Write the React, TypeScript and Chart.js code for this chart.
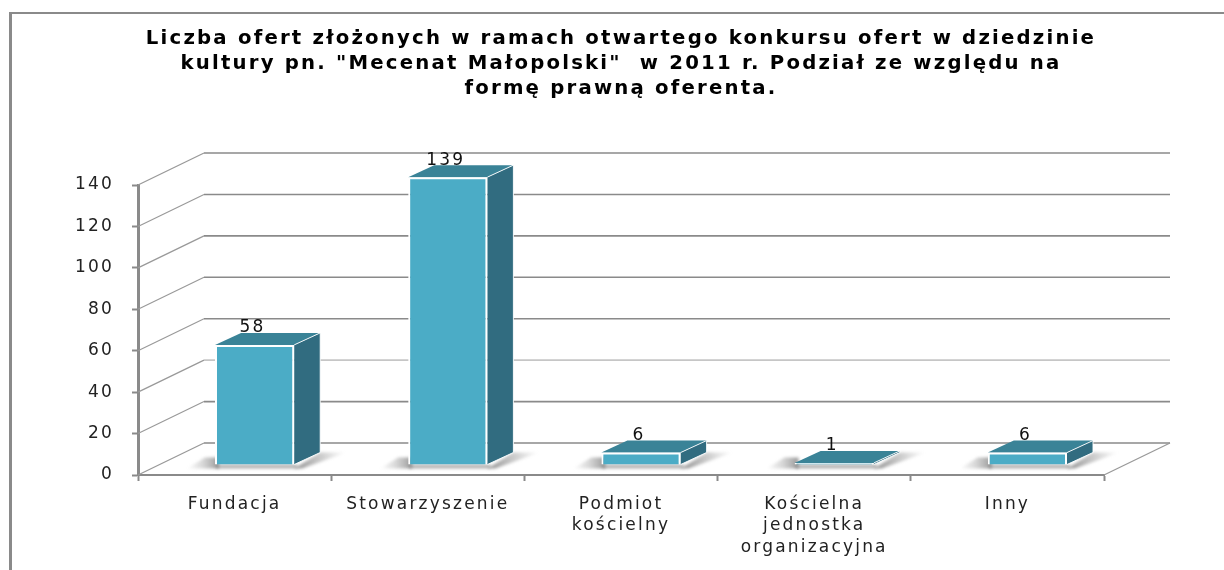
import React, { useEffect, useRef } from "react";
import { Chart, registerables } from "chart.js";

Chart.register(...registerables);

const titleLines = [
  'Liczba ofert złożonych w ramach otwartego konkursu ofert w dziedzinie',
  'kultury pn. "Mecenat Małopolski"  w 2011 r. Podział ze względu na',
  'formę prawną oferenta.',
];
const categories = [
  ["Fundacja"],
  ["Stowarzyszenie"],
  ["Podmiot", "kościelny"],
  ["Kościelna", "jednostka", "organizacyjna"],
  ["Inny"],
];
const offerCounts = [58, 139, 6, 1, 6];

const FONT = '"DejaVu Sans"';
const WALL_DX = 66;
const WALL_DY = -32;
const BAR_SHIFT_X = 20;
const BAR_SHIFT_Y = -10;
const BAR_DX = 26;
const BAR_DY = -12;
const GREY = "#8a8a8a";
const LIGHT = "#c6c6c6";
const FRONT = "#4bacc6";
const TOP = "#3a8397";
const SIDE = "#316c80";

function poly(ctx: CanvasRenderingContext2D, pts: number[][], fill: any) {
  ctx.beginPath();
  pts.forEach(([x, y], i) => (i ? ctx.lineTo(x, y) : ctx.moveTo(x, y)));
  ctx.closePath();
  ctx.fillStyle = fill;
  ctx.fill();
}

const plugin3d = {
  id: "plugin3d",
  beforeDraw(chart: any) {
    const { ctx, width, height } = chart;
    ctx.letterSpacing = "2.2px";
    ctx.save();
    ctx.fillStyle = "#fff";
    ctx.fillRect(0, 0, width, height);
    ctx.fillStyle = GREY;
    ctx.fillRect(9, 12, 3, height - 12);
    ctx.fillRect(9, 12, width - 9, 2);
    ctx.restore();
  },
  beforeDatasetsDraw(chart: any) {
    const { ctx, scales, chartArea } = chart;
    const y = scales.y;
    const { left, right, bottom } = chartArea;
    ctx.save();
    // walls
    y.ticks.forEach((t: any) => {
      const py = y.getPixelForValue(t.value);
      ctx.strokeStyle = "#999999";
      ctx.lineWidth = 1.2;
      ctx.beginPath();
      ctx.moveTo(left, py);
      ctx.lineTo(left + WALL_DX, py + WALL_DY);
      ctx.stroke();
      ctx.strokeStyle = t.value === 40 ? LIGHT : GREY;
      ctx.lineWidth = 1.6;
      ctx.beginPath();
      ctx.moveTo(left + WALL_DX, py + WALL_DY);
      ctx.lineTo(right + WALL_DX, py + WALL_DY);
      ctx.stroke();
    });
    ctx.strokeStyle = "#999999";
    ctx.lineWidth = 1.2;
    ctx.beginPath();
    ctx.moveTo(right, bottom);
    ctx.lineTo(right + WALL_DX, bottom + WALL_DY);
    ctx.stroke();

    // bars' 3D faces, shifted to the middle of the floor's depth
    ctx.translate(BAR_SHIFT_X, BAR_SHIFT_Y);
    const els = chart.getDatasetMeta(0).data;
    els.forEach((el: any) => {
      const x0 = el.x - el.width / 2;
      const x1 = el.x + el.width / 2;
      const top = el.y;
      const base = el.base;
      // floor shadow
      ctx.save();
      ctx.filter = "blur(1.5px)";
      const gl = ctx.createLinearGradient(x0 - 28, 0, x0 + 2, 0);
      gl.addColorStop(0, "rgba(130,130,130,0)");
      gl.addColorStop(0.5, "rgba(130,130,130,0.3)");
      gl.addColorStop(1, "rgba(110,110,110,0.65)");
      poly(ctx, [[x0 - 28, base + 4], [x0 - 10, base - 7], [x0 + 4, base - 7], [x0 + 4, base + 4]], gl);
      ctx.fillStyle = "rgba(130,130,130,0.6)";
      ctx.fillRect(x0 + 1, base, el.width + 2, 4);
      const gr = ctx.createLinearGradient(x1 + 4, 0, x1 + BAR_DX + 26, 0);
      gr.addColorStop(0, "rgba(110,110,110,0.7)");
      gr.addColorStop(0.55, "rgba(130,130,130,0.35)");
      gr.addColorStop(1, "rgba(150,150,150,0)");
      poly(ctx, [[x1, base + 4], [x1 + BAR_DX, base + BAR_DY], [x1 + BAR_DX + 26, base + BAR_DY], [x1 + 8, base + 4]], gr);
      ctx.restore();
      // top and side
      poly(ctx, [[x0, top], [x0 + BAR_DX, top + BAR_DY], [x1 + BAR_DX, top + BAR_DY], [x1, top]], TOP);
      poly(ctx, [[x1, top], [x1 + BAR_DX, top + BAR_DY], [x1 + BAR_DX, base + BAR_DY], [x1, base]], SIDE);
      ctx.strokeStyle = "rgba(255,255,255,0.9)";
      ctx.lineWidth = 1;
      ctx.beginPath();
      ctx.moveTo(x1, top);
      ctx.lineTo(x1 + BAR_DX, top + BAR_DY);
      ctx.lineTo(x1 + BAR_DX, base + BAR_DY);
      ctx.lineTo(x1, base);
      ctx.stroke();
    });
    ctx.restore();
    // native bar elements use the same shift
    ctx.save();
    ctx.translate(BAR_SHIFT_X, BAR_SHIFT_Y);
  },
  afterDatasetsDraw(chart: any) {
    const { ctx } = chart;
    ctx.restore();
    ctx.save();
    ctx.font = `17px ${FONT}`;
    ctx.fillStyle = "#111";
    ctx.textAlign = "center";
    ctx.textBaseline = "middle";
    chart.getDatasetMeta(0).data.forEach((el: any, i: number) => {
      ctx.fillText(
        String(offerCounts[i]),
        el.x + BAR_SHIFT_X - 2,
        el.y + BAR_SHIFT_Y - 17
      );
    });
    ctx.restore();
  },
};

export default function App() {
  const ref = useRef<HTMLCanvasElement>(null);
  useEffect(() => {
    const chart = new Chart(ref.current as HTMLCanvasElement, {
      type: "bar",
      plugins: [plugin3d],
      data: {
        labels: categories as any,
        datasets: [
          {
            data: offerCounts,
            backgroundColor: FRONT,
            borderColor: "#ffffff",
            borderWidth: 2,
            barPercentage: 0.41,
            categoryPercentage: 1,
            clip: false as any,
          },
        ],
      },
      options: {
        animation: false,
        responsive: false,
        layout: { padding: { left: 0, right: 120, top: 0, bottom: 0 } },
        plugins: {
          legend: { display: false },
          tooltip: { enabled: false },
          title: {
            display: true,
            text: titleLines,
            fullSize: false,
            color: "#000",
            font: { family: FONT, size: 19.7, weight: "bold", lineHeight: 1.27 },
            padding: { top: 26, bottom: 84 },
          },
        },
        scales: {
          x: {
            grid: {
              drawOnChartArea: false,
              color: GREY,
              tickLength: 6,
              tickWidth: 2,
            },
            border: { color: GREY, width: 2 },
            ticks: {
              color: "#222",
              font: { family: FONT, size: 17, lineHeight: 1.25 },
              padding: 13,
              maxRotation: 0,
              autoSkip: false,
            },
            afterFit(s: any) {
              s.height = 95;
            },
          },
          y: {
            min: 0,
            max: 140,
            grid: {
              drawOnChartArea: false,
              color: GREY,
              tickLength: 6,
              tickWidth: 2,
            },
            border: { color: GREY, width: 3 },
            ticks: {
              stepSize: 20,
              color: "#222",
              font: { family: FONT, size: 17 },
              padding: 18,
            },
            afterFit(s: any) {
              s.width = 138;
            },
          },
        },
      },
    } as any);
    return () => chart.destroy();
  }, []);
  return (
    <canvas
      ref={ref}
      width={1224}
      height={570}
      style={{ position: "fixed", left: 0, top: 0, display: "block" }}
    />
  );
}
